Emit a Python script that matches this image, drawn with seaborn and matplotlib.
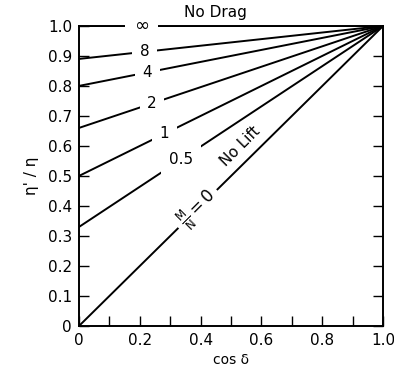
import numpy as np
import pandas as pd
import seaborn as sns
import matplotlib.pyplot as plt

# M/N curves: intercept at cos(delta)=0, all meet at (1, 1)
mn_labels = ["∞", "8", "4", "2", "1", "0.5", "0"]
intercepts = [1.0, 0.89, 0.80, 0.66, 0.50, 0.33, 0.0]
label_x = [0.205, 0.215, 0.225, 0.24, 0.28, 0.335]

x_ticks = [0, 0.1, 0.2, 0.3, 0.4, 0.5, 0.6, 0.7, 0.8, 0.9, 1.0]
x_ticklabels = ["0", "", "0.2", "", "0.4", "", "0.6", "", "0.8", "", "1.0"]
y_ticks = [0, 0.1, 0.2, 0.3, 0.4, 0.5, 0.6, 0.7, 0.8, 0.9, 1.0]
y_ticklabels = ["0", "0.1", "0.2", "0.3", "0.4", "0.5", "0.6", "0.7", "0.8", "0.9", "1.0"]

rows = []
for lab, b in zip(mn_labels, intercepts):
    rows.append({"mn": lab, "cos": 0.0, "eta": b})
    rows.append({"mn": lab, "cos": 1.0, "eta": 1.0})
df = pd.DataFrame(rows)

sns.set_style("white")
plt.rcParams["font.family"] = ["DejaVu Sans"]
plt.rcParams["xtick.direction"] = "in"
plt.rcParams["ytick.direction"] = "in"
for k in ["text.color", "axes.labelcolor", "xtick.color", "ytick.color", "axes.edgecolor"]:
    plt.rcParams[k] = "black"

fig = plt.figure(figsize=(3.94, 3.70), dpi=100)
ax = fig.add_axes([0.2005, 0.119, 0.772, 0.811])

sns.lineplot(data=df, x="cos", y="eta", units="mn", estimator=None,
             color="black", lw=1.4, ax=ax, legend=False)

box = dict(boxstyle="square,pad=0.5", fc="white", ec="none")
for lab, b, lx in zip(mn_labels[:-1], intercepts[:-1], label_x):
    ly = b + (1 - b) * lx
    fs = 13 if lab == "∞" else 11
    ax.text(lx, ly, lab, ha="center", va="center", fontsize=fs,
            bbox=box, zorder=5, clip_on=False)

ax.text(0.39, 0.39, r"$\frac{\mathrm{M}}{\mathrm{N}}=0$", rotation=45,
        ha="center", va="center", fontsize=12,
        bbox=dict(boxstyle="square,pad=0.3", fc="white", ec="none"),
        zorder=5, rotation_mode="anchor")
ax.text(0.53, 0.60, "No Lift", rotation=45, ha="center", va="center",
        fontsize=11, rotation_mode="anchor")
ax.text(0.45, 1.045, "No Drag", ha="center", va="center", fontsize=11, clip_on=False)

ax.set_xlim(0, 1)
ax.set_ylim(0, 1)
ax.set_xticks(x_ticks)
ax.set_xticklabels(x_ticklabels)
ax.set_yticks(y_ticks)
ax.set_yticklabels(y_ticklabels)
ax.tick_params(axis="both", which="both", direction="in", length=7, width=1,
               labelsize=11, pad=5, left=True, bottom=True, right=True, top=False,
               colors="black")
for s in ax.spines.values():
    s.set_linewidth(1.4)
    s.set_color("black")
    s.set_visible(True)

ax.set_xlabel("cos δ", fontsize=10, labelpad=4)
ax.set_ylabel("η' / η", fontsize=11, labelpad=6)

fig.savefig("out.png", dpi=100)
